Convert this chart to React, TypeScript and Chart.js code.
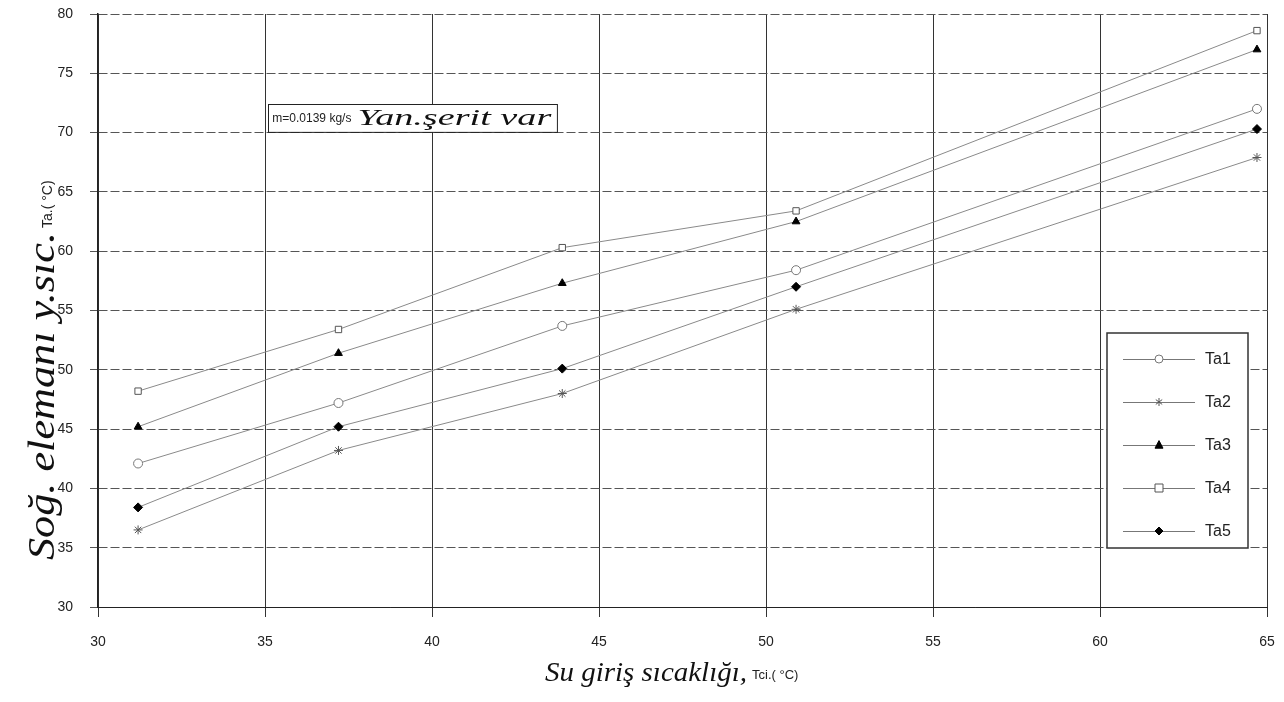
import React, { useEffect, useRef } from "react";
import { Chart, registerables } from "chart.js";

Chart.register(...registerables);

// ---- data ----
const waterInletTemps = [31.2, 37.2, 43.9, 50.9, 64.7];
const ta1 = [42.1, 47.2, 53.7, 58.4, 72.0];
const ta2 = [36.5, 43.2, 48.0, 55.1, 67.9];
const ta3 = [45.2, 51.4, 57.3, 62.5, 77.0];
const ta4 = [48.2, 53.4, 60.3, 63.4, 78.6];
const ta5 = [38.4, 45.2, 50.1, 57.0, 70.3];
const seriesLabels = ["Ta1", "Ta2", "Ta3", "Ta4", "Ta5"];
const xMin = 30;
const xMax = 65;
const yMin = 30;
const yMax = 80;
const tickStep = 5;
const annotationPrinted = "m=0.0139 kg/s";
const annotationHand = "Yan.şerit var";
const annotationX = [35.1, 43.75];
const annotationY = [72.4, 70.05];
const xTitleHand = "Su giriş sıcaklığı,";
const xTitleSmall = "Tci.( °C)";
const yTitleHand = "Soğ. elemanı y.sıc.";
const yTitleSmall = "Ta.( °C)";

type Style = { point: string; fill: string; stroke: string };
const styles: Style[] = [
  { point: "circle", fill: "#ffffff", stroke: "#777777" },
  { point: "star", fill: "#ffffff", stroke: "#555555" },
  { point: "triangle", fill: "#000000", stroke: "#000000" },
  { point: "rect", fill: "#ffffff", stroke: "#555555" },
  { point: "rectRot", fill: "#000000", stroke: "#000000" },
];
const seriesValues = [ta1, ta2, ta3, ta4, ta5];

const SANS = "'Liberation Sans', Arial, sans-serif";
const HAND = "'Liberation Serif', 'DejaVu Serif', serif";

function drawMarker(ctx: CanvasRenderingContext2D, s: Style, x: number, y: number, r: number) {
  ctx.save();
  ctx.fillStyle = s.fill;
  ctx.strokeStyle = s.stroke;
  ctx.lineWidth = 1;
  ctx.beginPath();
  if (s.point === "circle") {
    ctx.arc(x, y, r, 0, Math.PI * 2);
    ctx.fill();
    ctx.stroke();
  } else if (s.point === "rect") {
    ctx.rect(x - r, y - r, 2 * r, 2 * r);
    ctx.fill();
    ctx.stroke();
  } else if (s.point === "triangle") {
    ctx.moveTo(x, y - r * 1.1);
    ctx.lineTo(x + r, y + r * 0.8);
    ctx.lineTo(x - r, y + r * 0.8);
    ctx.closePath();
    ctx.fill();
    ctx.stroke();
  } else if (s.point === "rectRot") {
    ctx.moveTo(x, y - r);
    ctx.lineTo(x + r, y);
    ctx.lineTo(x, y + r);
    ctx.lineTo(x - r, y);
    ctx.closePath();
    ctx.fill();
    ctx.stroke();
  } else if (s.point === "star") {
    ctx.moveTo(x, y - r);
    ctx.lineTo(x, y + r);
    ctx.moveTo(x - r * 0.8, y - r * 0.6);
    ctx.lineTo(x + r * 0.8, y + r * 0.6);
    ctx.moveTo(x - r * 0.8, y + r * 0.6);
    ctx.lineTo(x + r * 0.8, y - r * 0.6);
    ctx.stroke();
  }
  ctx.restore();
}

// draw text at a given font size, stretched horizontally to a target width
function drawStretched(
  ctx: CanvasRenderingContext2D,
  text: string,
  x: number,
  y: number,
  size: number,
  target: number,
  family: string,
  style: string
) {
  ctx.save();
  ctx.font = `${style} ${size}px ${family}`;
  const w = ctx.measureText(text).width;
  const sx = target / w;
  ctx.translate(x, y);
  ctx.scale(sx, 1);
  ctx.textAlign = "left";
  ctx.fillText(text, 0, 0);
  ctx.restore();
}

const overlayPlugin = {
  id: "overlay",
  afterDraw(chart: any) {
    const ctx: CanvasRenderingContext2D = chart.ctx;
    const xs = chart.scales.x;
    const ys = chart.scales.y;
    const area = chart.chartArea;

    // annotation box
    const ax1 = xs.getPixelForValue(annotationX[0]);
    const ax2 = xs.getPixelForValue(annotationX[1]);
    const ay1 = ys.getPixelForValue(annotationY[0]);
    const ay2 = ys.getPixelForValue(annotationY[1]);
    ctx.save();
    ctx.fillStyle = "#ffffff";
    ctx.fillRect(ax1, ay1, ax2 - ax1, ay2 - ay1);
    ctx.strokeStyle = "#222222";
    ctx.lineWidth = 1;
    ctx.strokeRect(Math.round(ax1) + 0.5, Math.round(ay1) + 0.5, ax2 - ax1, ay2 - ay1);
    const amid = (ay1 + ay2) / 2;
    ctx.fillStyle = "#222222";
    ctx.textBaseline = "middle";
    ctx.textAlign = "left";
    ctx.font = `12px ${SANS}`;
    ctx.fillText(annotationPrinted, ax1 + 4, amid + 1);
    const pw = ctx.measureText(annotationPrinted).width;
    ctx.fillStyle = "#111111";
    ctx.textBaseline = "alphabetic";
    drawStretched(ctx, annotationHand, ax1 + pw + 10, amid + 7, 24, ax2 - ax1 - pw - 16, HAND, "italic");
    ctx.restore();

    // legend box
    const lx1 = area.right - 160;
    const lx2 = area.right - 19;
    const ly1 = 333;
    const ly2 = 548;
    ctx.save();
    ctx.fillStyle = "#ffffff";
    ctx.fillRect(lx1, ly1, lx2 - lx1, ly2 - ly1);
    ctx.strokeStyle = "#333333";
    ctx.lineWidth = 1.5;
    ctx.strokeRect(lx1, ly1, lx2 - lx1, ly2 - ly1);
    seriesLabels.forEach((lab, i) => {
      const y = 359 + i * 43;
      ctx.strokeStyle = "#777777";
      ctx.lineWidth = 1;
      ctx.beginPath();
      ctx.moveTo(lx1 + 16, y + 0.5);
      ctx.lineTo(lx1 + 88, y + 0.5);
      ctx.stroke();
      drawMarker(ctx, styles[i], lx1 + 52, y, 4);
      ctx.fillStyle = "#222222";
      ctx.font = `16px ${SANS}`;
      ctx.textAlign = "left";
      ctx.textBaseline = "middle";
      ctx.fillText(lab, lx1 + 98, y + 1);
    });
    ctx.restore();

    // x title
    ctx.save();
    ctx.fillStyle = "#111111";
    ctx.textBaseline = "alphabetic";
    drawStretched(ctx, xTitleHand, 545, 681, 28, 202, HAND, "italic");
    ctx.font = `13px ${SANS}`;
    ctx.fillStyle = "#222222";
    ctx.textAlign = "left";
    ctx.fillText(xTitleSmall, 752, 679);
    ctx.restore();

    // y title
    ctx.save();
    ctx.rotate(-Math.PI / 2);
    ctx.fillStyle = "#111111";
    ctx.textBaseline = "alphabetic";
    drawStretched(ctx, yTitleHand, -560, 54, 38, 328, HAND, "italic");
    ctx.font = `14px ${SANS}`;
    ctx.fillStyle = "#222222";
    ctx.textAlign = "left";
    ctx.fillText(yTitleSmall, -228, 52);
    ctx.restore();
  },
};

export default function App() {
  const ref = useRef<HTMLCanvasElement | null>(null);

  useEffect(() => {
    document.body.style.margin = "0";
    const canvas = ref.current;
    if (!canvas) return;
    const chart = new Chart(canvas, {
      type: "scatter",
      data: {
        datasets: seriesLabels.map((label, i) => ({
          label,
          data: waterInletTemps.map((x, j) => ({ x, y: seriesValues[i][j] })),
          showLine: true,
          borderColor: "#8a8a8a",
          borderWidth: 1,
          pointStyle: styles[i].point as any,
          pointRadius: 4.5,
          pointBackgroundColor: styles[i].fill,
          pointBorderColor: styles[i].stroke,
          pointBorderWidth: 1,
        })),
      },
      options: {
        animation: false,
        responsive: false,
        devicePixelRatio: 1,
        layout: { padding: { top: 14, right: 17, left: 0, bottom: 0 } },
        plugins: {
          legend: { display: false },
          tooltip: { enabled: false },
          title: { display: false },
        },
        scales: {
          x: {
            type: "linear",
            min: xMin,
            max: xMax,
            ticks: {
              stepSize: tickStep,
              color: "#222222",
              font: { family: SANS, size: 14 },
              padding: 17,
              maxRotation: 0,
            },
            grid: { color: "#333333", lineWidth: 1, tickLength: 10, drawTicks: true },
            border: { display: true, color: "#222222", width: 1 },
            afterFit: (s: any) => {
              s.height = 95;
              s.paddingLeft = 0;
              s.paddingRight = 0;
            },
          },
          y: {
            type: "linear",
            min: yMin,
            max: yMax,
            ticks: {
              stepSize: tickStep,
              color: "#222222",
              font: { family: SANS, size: 14 },
              padding: 17,
            },
            grid: { color: "#555555", lineWidth: 1, tickLength: 8, drawTicks: true },
            border: { display: true, color: "#222222", width: 1.5, dash: [9, 3] },
            afterFit: (s: any) => {
              s.width = 98;
              s.paddingTop = 0;
              s.paddingBottom = 0;
            },
          },
        },
      },
      plugins: [overlayPlugin],
    });
    return () => chart.destroy();
  }, []);

  return (
    <div style={{ width: 1284, height: 702, background: "#ffffff" }}>
      <canvas ref={ref} width={1284} height={702} style={{ display: "block" }} />
    </div>
  );
}
